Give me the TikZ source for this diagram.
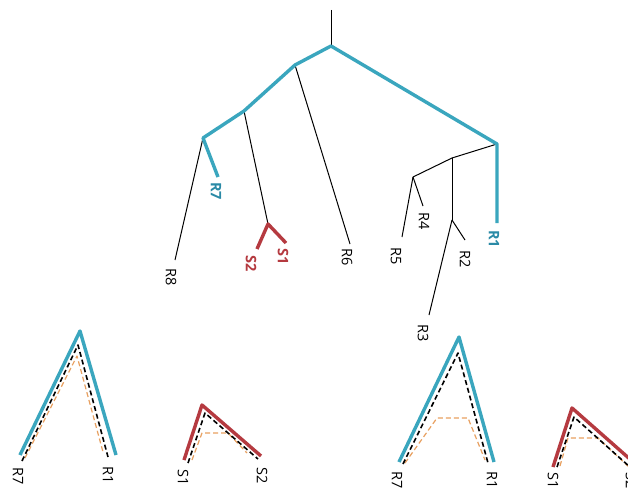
\documentclass[tikz,border=0pt]{standalone}
\usepackage{fontspec}
\setmainfont{Open Sans}
\begin{document}
\begin{tikzpicture}[x=1pt,y=-1pt,
  blueline/.style={draw=tealb,line width=3.4pt},
  redline/.style={draw=redb,line width=3.4pt},
  thin/.style={draw=black,line width=1pt},
  blackdash/.style={draw=black,line width=1.6pt,dash pattern=on 5pt off 3pt},
  orangedash/.style={draw=orangeb,line width=1.2pt,dash pattern=on 5pt off 3pt},
  lbl/.style={rotate=-90,inner sep=0pt,font=\fontsize{14.5}{15}\selectfont},
  lblb/.style={lbl,text=tealt,font=\fontsize{14.5}{15}\selectfont\bfseries},
  lblr/.style={lbl,text=redb,font=\fontsize{14.5}{15}\selectfont\bfseries},
  line join=round]
\definecolor{tealb}{HTML}{3AA6BE}
\definecolor{tealt}{HTML}{2A8AA6}
\definecolor{redb}{HTML}{B53A40}
\definecolor{orangeb}{HTML}{E8A060}
\clip (0,0) rectangle (628,489);
\fill[white] (0,0) rectangle (628,489);
% tree nodes
\coordinate (top) at (331,10);
\coordinate (A) at (331,46);
\coordinate (B) at (295,65);
\coordinate (D) at (244,111);
\coordinate (E) at (203,138);
\coordinate (Sn) at (268,224);
\coordinate (C) at (497,144);
\coordinate (F) at (452,158);
\coordinate (G) at (413,177);
\coordinate (H) at (452,220);
\coordinate (eR7) at (218,177);
\coordinate (eR8) at (175,260);
\coordinate (eS2) at (257,249);
\coordinate (eS1) at (286,243);
\coordinate (eR6) at (350,244);
\coordinate (eR1) at (497,223);
\coordinate (eR5) at (402,237);
\coordinate (eR4) at (423,206);
\coordinate (eR2) at (465,240);
\coordinate (eR3) at (429,315);
% thin branches
\draw[thin] (top) -- (A);
\draw[thin] (B) -- (eR6);
\draw[thin] (D) -- (Sn);
\draw[thin] (E) -- (eR8);
\draw[thin] (C) -- (F);
\draw[thin] (F) -- (G);
\draw[thin] (G) -- (eR5);
\draw[thin] (G) -- (eR4);
\draw[thin] (F) -- (H);
\draw[thin] (H) -- (eR2);
\draw[thin] (H) -- (eR3);
% highlighted paths
\draw[blueline] (eR7) -- (E) -- (D) -- (B) -- (A) -- (C) -- (eR1);
\draw[redline] (eS2) -- (Sn) -- (eS1);
% labels
\node[lblb] (lR7) at (216,191) {R7};
\node[lbl] (lR8) at (171,277) {R8};
\node[lblr] (lS2) at (251,264) {S2};
\node[lblr] (lS1) at (283,257) {S1};
\node[lbl] (lR6) at (347,257) {R6};
\node[lbl] (lR5) at (396,256) {R5};
\node[lbl] (lR4) at (424,221) {R4};
\node[lbl] (lR2) at (465,259) {R2};
\node[lbl] (lR3) at (423,333) {R3};
\node[lblb] (lR1) at (494,239) {R1};
% bottom diagram 1
\coordinate (a1) at (20,455); \coordinate (a2) at (80,331); \coordinate (a3) at (116,455);
\coordinate (b1) at (22,461); \coordinate (b2) at (78,345); \coordinate (b3) at (108,457);
\coordinate (c1) at (25,458); \coordinate (c2) at (77,356); \coordinate (c3) at (103,452);
\draw[blueline] (a1) -- (a2) -- (a3);
\draw[orangedash] (c1) -- (c2) -- (c3);
\draw[blackdash] (b1) -- (b2) -- (b3);
\node[lbl] (d1a) at (18,476) {R7};
\node[lbl] (d1b) at (108,475) {R1};
% bottom diagram 2
\coordinate (p1) at (184,460); \coordinate (p2) at (202,405); \coordinate (p3) at (261,456);
\coordinate (q1) at (188,463); \coordinate (q2) at (205,413); \coordinate (q3) at (258,459);
\coordinate (r1) at (192,460); \coordinate (r2) at (202,433); \coordinate (r3) at (228,433); \coordinate (r4) at (247,453);
\draw[redline] (p1) -- (p2) -- (p3);
\draw[orangedash] (r1) -- (r2) -- (r3) -- (r4);
\draw[blackdash] (q1) -- (q2) -- (q3);
\node[lbl] (d2a) at (183,478) {S1};
\node[lbl] (d2b) at (262,476) {S2};
% bottom diagram 3
\coordinate (e1) at (399,462); \coordinate (e2) at (459,337); \coordinate (e3) at (494,462);
\coordinate (f1) at (403,464); \coordinate (f2) at (458,353); \coordinate (f3) at (488,463);
\coordinate (g1) at (405,463); \coordinate (g2) at (437,418); \coordinate (g3) at (468,418); \coordinate (g4) at (485,460);
\draw[blueline] (e1) -- (e2) -- (e3);
\draw[orangedash] (g1) -- (g2) -- (g3) -- (g4);
\draw[blackdash] (f1) -- (f2) -- (f3);
\node[lbl] (d3a) at (397,480) {R7};
\node[lbl] (d3b) at (492,480) {R1};
% bottom diagram 4
\coordinate (h1) at (553,467); \coordinate (h2) at (572,408); \coordinate (h3) at (640,468);
\coordinate (i1) at (557,467); \coordinate (i2) at (574,417); \coordinate (i3) at (640,476);
\coordinate (j1) at (560,466); \coordinate (j2) at (568,438); \coordinate (j3) at (598,438); \coordinate (j4) at (630,468);
\draw[redline] (h1) -- (h2) -- (h3);
\draw[orangedash] (j1) -- (j2) -- (j3) -- (j4);
\draw[blackdash] (i1) -- (i2) -- (i3);
\node[lbl] (d4a) at (553,481) {S1};
\node[lbl] (d4b) at (631,481) {S2};
\end{tikzpicture}
\end{document}
